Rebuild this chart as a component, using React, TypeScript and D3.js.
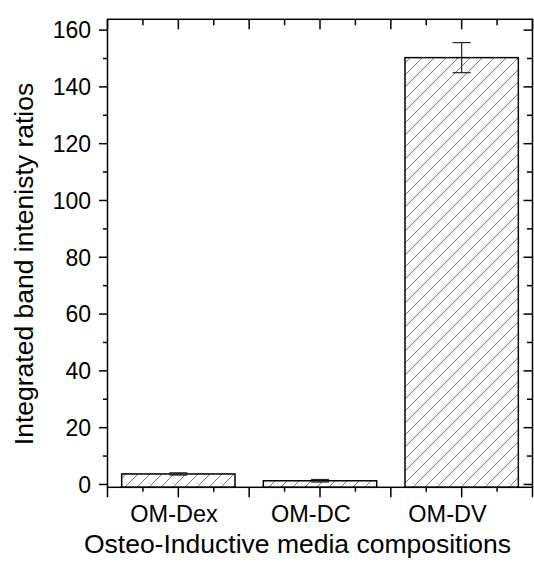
import React from "react";
import * as d3 from "d3";

const categories = ["OM-Dex", "OM-DC", "OM-DV"];
const values = [3.7, 1.3, 150.3];
const errors = [0.4, 0.45, 5.3];
const yMajorTicks = [0, 20, 40, 60, 80, 100, 120, 140, 160];

const W = 534;
const H = 567;
const left = 107.5;
const right = 532.5;
const top = 19.3;
const bottom = 487.3;

export default function App() {
  const x = d3.scaleLinear().domain([0.5, 3.5]).range([left, right]);
  const y = d3.scaleLinear().domain([-1, 163.8]).range([bottom, top]);
  const barW = x(1.8) - x(1);
  const yMinor = d3.range(10, 165, 20);
  const xMajor = d3.range(0.5, 3.51, 0.5);
  const xMinor = d3.range(0.75, 3.5, 0.5);
  const axisColor = "#000";
  const font = "Liberation Sans, Arial, sans-serif";
  // label centers observed slightly compressed toward the left
  const labelX = (i: number) => x(i + 1) * 0.965 + 2;

  return (
    <svg width={W} height={H} style={{ position: "absolute", left: 0, top: 0, background: "#fff" }}>
      <defs>
        <pattern id="hatch" patternUnits="userSpaceOnUse" width={12} height={12}>
          <path d="M-3,3 L3,-3 M0,12 L12,0 M9,15 L15,9" stroke="#555" strokeWidth={0.8} />
        </pattern>
      </defs>
      <rect x={0} y={0} width={W} height={H} fill="#fff" />
      {values.map((v, i) => (
        <rect
          key={"bar" + i}
          x={x(i + 1) - barW / 2}
          y={y(v)}
          width={barW}
          height={bottom - y(v)}
          fill="url(#hatch)"
          stroke="#000"
          strokeWidth={1.5}
        />
      ))}
      {values.map((v, i) => {
        const cx = x(i + 1);
        return (
          <g key={"err" + i} stroke="#222" strokeWidth={1.2}>
            <line x1={cx} x2={cx} y1={y(v + errors[i])} y2={y(v - errors[i])} />
            <line x1={cx - 9} x2={cx + 9} y1={y(v + errors[i])} y2={y(v + errors[i])} />
            <line x1={cx - 9} x2={cx + 9} y1={y(v - errors[i])} y2={y(v - errors[i])} />
          </g>
        );
      })}
      {/* frame */}
      <rect x={left} y={top} width={right - left} height={bottom - top} fill="none" stroke={axisColor} strokeWidth={1.5} />
      {/* left axis ticks */}
      {yMajorTicks.map((t) => (
        <line key={"ly" + t} x1={left - 8.5} x2={left} y1={y(t)} y2={y(t)} stroke={axisColor} strokeWidth={1.5} />
      ))}
      {yMinor.map((t) => (
        <line key={"lym" + t} x1={left - 4.5} x2={left} y1={y(t)} y2={y(t)} stroke={axisColor} strokeWidth={1.5} />
      ))}
      {/* right axis ticks */}
      {yMajorTicks.map((t) => (
        <line key={"ry" + t} x1={right - 9} x2={right} y1={y(t)} y2={y(t)} stroke={axisColor} strokeWidth={1.5} />
      ))}
      {yMinor.map((t) => (
        <line key={"rym" + t} x1={right - 5.5} x2={right} y1={y(t)} y2={y(t)} stroke={axisColor} strokeWidth={1.5} />
      ))}
      {/* bottom axis ticks */}
      {xMajor.map((t) => (
        <line key={"bx" + t} x1={x(t)} x2={x(t)} y1={bottom} y2={bottom + 10} stroke={axisColor} strokeWidth={1.5} />
      ))}
      {xMinor.map((t) => (
        <line key={"bxm" + t} x1={x(t)} x2={x(t)} y1={bottom} y2={bottom + 4.5} stroke={axisColor} strokeWidth={1.5} />
      ))}
      {/* top axis ticks */}
      {xMajor.map((t) => (
        <line key={"tx" + t} x1={x(t)} x2={x(t)} y1={top} y2={top + 10} stroke={axisColor} strokeWidth={1.5} />
      ))}
      {xMinor.map((t) => (
        <line key={"txm" + t} x1={x(t)} x2={x(t)} y1={top} y2={top + 6} stroke={axisColor} strokeWidth={1.5} />
      ))}
      {/* y tick labels */}
      {yMajorTicks.map((t) => (
        <text key={"yl" + t} x={91} y={y(t)} dy="0.36em" textAnchor="end" fontFamily={font} fontSize={23} fill="#000">
          {t}
        </text>
      ))}
      {/* x tick labels */}
      {categories.map((c, i) => (
        <text key={"xl" + c} x={labelX(i)} y={522} textAnchor="middle" fontFamily={font} fontSize={23.5} fill="#000">
          {c}
        </text>
      ))}
      <text x={297.5} y={553} textAnchor="middle" fontFamily={font} fontSize={26.5} fill="#000">
        Osteo-Inductive media compositions
      </text>
      <text
        transform={`translate(32.5,264) rotate(-90)`}
        textAnchor="middle"
        fontFamily={font}
        fontSize={26.5}
        fill="#000"
      >
        Integrated band intenisty ratios
      </text>
    </svg>
  );
}
